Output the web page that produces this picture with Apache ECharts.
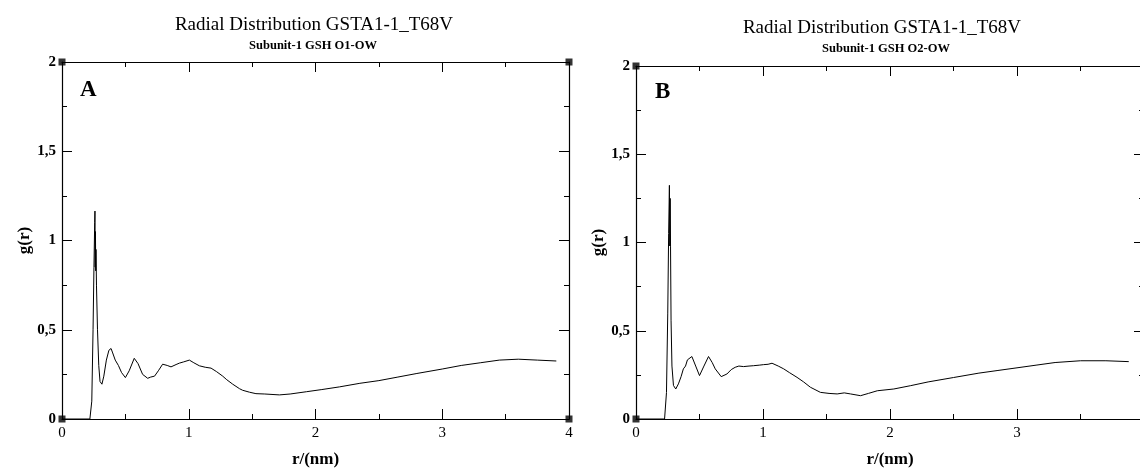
<!DOCTYPE html>
<html>
<head>
<meta charset="utf-8">
<script src="https://cdn.jsdelivr.net/npm/echarts@6/dist/echarts.min.js"></script>
<style>
html,body{margin:0;padding:0;background:#fff;}
#chart{width:1140px;height:469px;}
</style>
</head>
<body>
<div id="chart"></div>
<script>
// ---- data ----
const titleText = 'Radial Distribution GSTA1-1_T68V';
const subtitleA = 'Subunit-1 GSH O1-OW';
const subtitleB = 'Subunit-1 GSH O2-OW';
const panelLabels = ['A', 'B'];
const xAxisName = 'r/(nm)';
const yAxisName = 'g(r)';
const xTickLabels = ['0', '1', '2', '3', '4'];
const yTickLabels = ['0', '0,5', '1', '1,5', '2'];
const xMin = 0, xMax = 4, yMin = 0, yMax = 2;

const rA = [0, 0.22, 0.235, 0.245, 0.252, 0.258, 0.26, 0.262, 0.264, 0.266, 0.268, 0.272, 0.28, 0.29, 0.30, 0.315, 0.33, 0.35, 0.37, 0.387, 0.40, 0.42, 0.445, 0.47, 0.50, 0.53, 0.57, 0.60, 0.636, 0.676, 0.70, 0.73, 0.76, 0.794, 0.83, 0.86, 0.90, 0.926, 0.96, 1.005, 1.04, 1.084, 1.13, 1.176, 1.22, 1.268, 1.30, 1.347, 1.40, 1.425, 1.48, 1.53, 1.6, 1.715, 1.8, 1.93, 2.05, 2.19, 2.35, 2.5, 2.65, 2.8, 3.0, 3.15, 3.3, 3.45, 3.6, 3.75, 3.9];
const gA = [0, 0, 0.1, 0.5, 0.85, 1.1, 1.165, 0.85, 1.05, 0.83, 0.95, 0.75, 0.5, 0.3, 0.21, 0.195, 0.24, 0.33, 0.385, 0.395, 0.37, 0.33, 0.30, 0.26, 0.232, 0.27, 0.34, 0.31, 0.25, 0.228, 0.235, 0.24, 0.27, 0.307, 0.30, 0.292, 0.305, 0.313, 0.32, 0.33, 0.315, 0.298, 0.29, 0.285, 0.265, 0.24, 0.22, 0.195, 0.17, 0.161, 0.15, 0.142, 0.14, 0.135, 0.14, 0.153, 0.165, 0.18, 0.2, 0.215, 0.235, 0.255, 0.28, 0.3, 0.315, 0.33, 0.335, 0.33, 0.325];

const rB = [0, 0.225, 0.24, 0.25, 0.257, 0.263, 0.266, 0.269, 0.272, 0.276, 0.283, 0.295, 0.313, 0.334, 0.355, 0.373, 0.39, 0.405, 0.44, 0.47, 0.50, 0.535, 0.571, 0.60, 0.624, 0.671, 0.716, 0.75, 0.781, 0.81, 0.847, 0.89, 0.926, 0.97, 1.005, 1.04, 1.071, 1.12, 1.163, 1.21, 1.268, 1.32, 1.373, 1.452, 1.52, 1.584, 1.64, 1.689, 1.768, 1.83, 1.9, 2.03, 2.163, 2.3, 2.5, 2.7, 2.85, 3.0, 3.15, 3.3, 3.5, 3.7, 3.88];
const gB = [0, 0, 0.15, 0.6, 1.05, 1.324, 0.98, 1.25, 0.975, 0.56, 0.3, 0.19, 0.17, 0.199, 0.24, 0.284, 0.30, 0.335, 0.354, 0.30, 0.246, 0.30, 0.354, 0.32, 0.284, 0.24, 0.255, 0.28, 0.293, 0.30, 0.297, 0.30, 0.302, 0.305, 0.308, 0.31, 0.316, 0.30, 0.284, 0.262, 0.236, 0.21, 0.18, 0.151, 0.145, 0.142, 0.148, 0.142, 0.132, 0.145, 0.16, 0.17, 0.189, 0.21, 0.235, 0.26, 0.275, 0.29, 0.305, 0.32, 0.33, 0.33, 0.325];

// ---- chart ----
const FONT = 'Liberation Serif';
const zip = (xs, ys) => xs.map((x, i) => [x, ys[i]]);
const corners = [[xMin, yMin], [xMin, yMax], [xMax, yMin], [xMax, yMax]];

function xAx(grid, pos, labels) {
  return {
    type: 'value', gridIndex: grid, position: pos, min: xMin, max: xMax, interval: 1,
    name: labels ? xAxisName : '', nameLocation: 'middle', nameGap: 32,
    nameTextStyle: {fontFamily: FONT, fontSize: 17, fontWeight: 'bold', color: '#000'},
    axisLine: {show: true, onZero: false, lineStyle: {color: '#000', width: 1.2}},
    axisTick: {show: true, inside: true, length: 10, lineStyle: {color: '#000', width: 1}},
    minorTick: {show: true, splitNumber: 2, length: 5, lineStyle: {color: '#000', width: 1}},
    splitLine: {show: false},
    axisLabel: {show: labels, margin: 7, fontFamily: FONT, fontSize: 15, color: '#000',
      formatter: v => xTickLabels[Math.round(v)]}
  };
}
function yAx(grid, pos, labels) {
  return {
    type: 'value', gridIndex: grid, position: pos, min: yMin, max: yMax, interval: 0.5,
    name: labels ? yAxisName : '', nameLocation: 'middle', nameGap: 20, nameRotate: 90,
    nameTextStyle: {fontFamily: FONT, fontSize: 17, fontWeight: 'bold', color: '#000'},
    axisLine: {show: true, onZero: false, lineStyle: {color: '#000', width: 1.2}},
    axisTick: {show: true, inside: true, length: 10, lineStyle: {color: '#000', width: 1}},
    minorTick: {show: true, splitNumber: 2, length: 5, lineStyle: {color: '#000', width: 1}},
    splitLine: {show: false},
    axisLabel: {show: labels, margin: 6, fontFamily: FONT, fontSize: 15, fontWeight: 'bold', color: '#000',
      formatter: v => yTickLabels[Math.round(v / 0.5)]}
  };
}

const option = {
  backgroundColor: '#fff',
  animation: false,
  title: [
    {text: titleText, left: 309, top: 11, textAlign: 'center',
      textStyle: {fontFamily: FONT, fontSize: 19, fontWeight: 'normal', color: '#000'}},
    {text: subtitleA, left: 308, top: 34, textAlign: 'center',
      textStyle: {fontFamily: FONT, fontSize: 12.5, fontWeight: 'bold', color: '#000'}},
    {text: titleText, left: 877, top: 14, textAlign: 'center',
      textStyle: {fontFamily: FONT, fontSize: 19, fontWeight: 'normal', color: '#000'}},
    {text: subtitleB, left: 881, top: 37, textAlign: 'center',
      textStyle: {fontFamily: FONT, fontSize: 12.5, fontWeight: 'bold', color: '#000'}},
    {text: panelLabels[0], left: 75, top: 74,
      textStyle: {fontFamily: FONT, fontSize: 23, fontWeight: 'bold', color: '#000'}},
    {text: panelLabels[1], left: 650, top: 76,
      textStyle: {fontFamily: FONT, fontSize: 23, fontWeight: 'bold', color: '#000'}}
  ],
  grid: [
    {left: 62, top: 62, width: 507, height: 357, outerBoundsMode: 'none'},
    {left: 636, top: 66, width: 508, height: 353, outerBoundsMode: 'none'}
  ],
  xAxis: [xAx(0, 'bottom', true), xAx(0, 'top', false), xAx(1, 'bottom', true), xAx(1, 'top', false)],
  yAxis: [yAx(0, 'left', true), yAx(0, 'right', false), yAx(1, 'left', true), yAx(1, 'right', false)],
  series: [
    {type: 'line', xAxisIndex: 0, yAxisIndex: 0, data: zip(rA, gA), symbol: 'none',
      lineStyle: {color: '#000', width: 1}},
    {type: 'scatter', xAxisIndex: 0, yAxisIndex: 0, data: corners, symbol: 'rect', symbolSize: 7,
      itemStyle: {color: '#000'}, clip: false, z: 5},
    {type: 'line', xAxisIndex: 2, yAxisIndex: 2, data: zip(rB, gB), symbol: 'none',
      lineStyle: {color: '#000', width: 1}},
    {type: 'scatter', xAxisIndex: 2, yAxisIndex: 2, data: corners, symbol: 'rect', symbolSize: 7,
      itemStyle: {color: '#000'}, clip: false, z: 5}
  ]
};
const chart = echarts.init(document.getElementById('chart'), null, {renderer: 'canvas'});
chart.setOption(option);
</script>
</body>
</html>
